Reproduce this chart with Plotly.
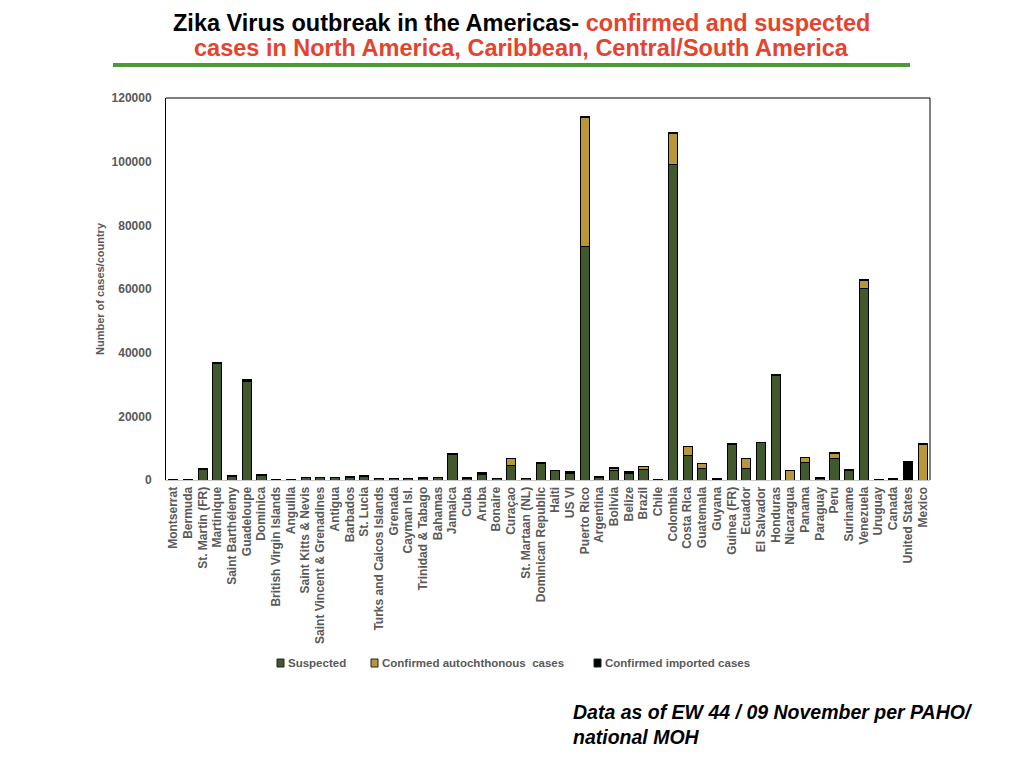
import plotly.graph_objects as go

countries = [
    "Montserrat", "Bermuda", "St. Martin (FR)", "Martinique", "Saint Barthélemy",
    "Guadeloupe", "Dominica", "British Virgin Islands", "Anguilla",
    "Saint Kitts & Nevis", "Saint Vincent & Grenadines", "Antigua", "Barbados",
    "St. Lucia", "Turks and Caicos Islands", "Grenada", "Cayman Isl.",
    "Trinidad & Tabago", "Bahamas", "Jamaica", "Cuba", "Aruba", "Bonaire",
    "Curaçao", "St. Martaan (NL)", "Dominican Republic", "Haiti", "US VI",
    "Puerto Rico", "Argentina", "Bolivia", "Belize", "Brazil", "Chile",
    "Colombia", "Costa Rica", "Guatemala", "Guyana", "Guinea (FR)", "Ecuador",
    "El Salvador", "Honduras", "Nicaragua", "Panama", "Paraguay", "Peru",
    "Suriname", "Venezuela", "Uruguay", "Canada", "United States", "Mexico",
]

suspected = [
    150, 0, 3300, 36700, 1100, 31100, 1400, 100, 100, 800,
    800, 800, 900, 1200, 400, 500, 400, 400, 700, 8000,
    500, 1800, 400, 4500, 400, 5300, 3000, 2000, 73500, 700,
    3000, 2100, 3300, 100, 99000, 7800, 3700, 300, 11000, 3600,
    11700, 32800, 0, 5600, 500, 6600, 3000, 60300, 0, 0,
    0, 0,
]
confirmed_auto = [
    0, 0, 0, 0, 0, 0, 0, 0, 0, 0,
    0, 0, 0, 0, 0, 0, 0, 300, 0, 0,
    0, 300, 0, 2300, 0, 0, 0, 500, 40400, 0,
    700, 400, 900, 0, 9800, 2600, 1400, 0, 500, 3000,
    0, 0, 3000, 1500, 0, 1800, 300, 2500, 0, 0,
    0, 11300,
]
imported = [
    50, 200, 200, 300, 200, 400, 200, 100, 100, 100,
    100, 100, 100, 200, 200, 100, 200, 200, 200, 300,
    200, 200, 200, 100, 200, 300, 100, 100, 300, 500,
    100, 100, 100, 200, 300, 100, 100, 100, 100, 100,
    200, 300, 100, 100, 300, 100, 100, 300, 100, 600,
    5700, 300,
]

y_ticks = [0, 20000, 40000, 60000, 80000, 100000, 120000]

series = [
    ("Suspected", suspected, "#41592c"),
    ("Confirmed autochthonous  cases", confirmed_auto, "#b8963a"),
    ("Confirmed imported cases", imported, "#000000"),
]

FONT = "Liberation Sans, Arial, sans-serif"
GREY = "#595959"
RED = "#e5432e"

# plot area in page pixels: x 166..930, y 98..480
def px(x):
    return (x - 166) / 764


def py(y):
    return (480 - y) / 382


fig = go.Figure()
for name, vals, color in series:
    fig.add_trace(go.Bar(
        x=countries, y=vals, name=name,
        marker=dict(color=color, line=dict(color="black", width=1)),
    ))

fig.update_layout(
    width=1024, height=768,
    barmode="stack", bargap=0.38,
    plot_bgcolor="white", paper_bgcolor="white",
    margin=dict(l=158, r=102, t=90, b=296),
    font=dict(family=FONT, size=11, color=GREY),
    showlegend=False,
    xaxis=dict(
        tickangle=-90, showgrid=False, showline=True, linecolor="#c8c8c8",
        ticks="", ticklabelstandoff=1,
        tickfont=dict(size=12, color=GREY, family=FONT, weight="bold"),
    ),
    yaxis=dict(
        range=[0, 120000], tickvals=y_ticks, tickformat="d",
        showgrid=False, zeroline=False, showline=True, linecolor="black",
        linewidth=1, ticks="", ticklabelstandoff=11,
        tickfont=dict(size=12, color=GREY, family=FONT, weight="bold"),
        title=dict(text="Number of cases/country", standoff=4,
                   font=dict(size=11, color=GREY, family=FONT, weight="bold")),
    ),
)

# top and right frame of the plot area
fig.add_shape(type="line", xref="paper", yref="paper", x0=0, x1=1, y0=1, y1=1,
              line=dict(color="black", width=1))
fig.add_shape(type="line", xref="paper", yref="paper", x0=1, x1=1, y0=0, y1=1,
              line=dict(color="black", width=1))

# green rule under the title
fig.add_shape(type="line", xref="paper", yref="paper",
              x0=px(113), x1=px(910), y0=py(65), y1=py(65),
              line=dict(color="#4c9a35", width=4))

title_lines = [
    ("<b>Zika Virus outbreak in the Americas- "
     f"<span style='color:{RED}'>confirmed and suspected</span></b>", 23),
    (f"<b><span style='color:{RED}'>cases in North America, Caribbean, "
     "Central/South America</span></b>", 48),
]
for text, ty in title_lines:
    fig.add_annotation(
        xref="paper", yref="paper", x=px(521), y=py(ty),
        xanchor="center", yanchor="middle", showarrow=False, borderpad=0,
        text=text, font=dict(family=FONT, size=23.5, color="black"),
    )

# legend drawn by hand to match the compact layout
legend_x = [277, 371, 594]
for (name, _, color), lx in zip(series, legend_x):
    fig.add_shape(type="rect", xref="paper", yref="paper",
                  x0=px(lx), x1=px(lx + 7), y0=py(667), y1=py(659),
                  fillcolor=color, line=dict(color="#222", width=1))
    fig.add_annotation(
        xref="paper", yref="paper", x=px(lx + 9), y=py(663),
        xanchor="left", yanchor="middle", showarrow=False,
        text=name, font=dict(family=FONT, size=11.5, color=GREY, weight="bold"),
    )

fig.add_annotation(
    xref="paper", yref="paper", x=px(571), y=py(724),
    xanchor="left", yanchor="middle", showarrow=False, align="left",
    text="<b><i>Data as of EW 44 / 09 November per PAHO/<br>national MOH</i></b>",
    font=dict(family=FONT, size=19.5, color="black"),
)

fig.write_html("out.html")
